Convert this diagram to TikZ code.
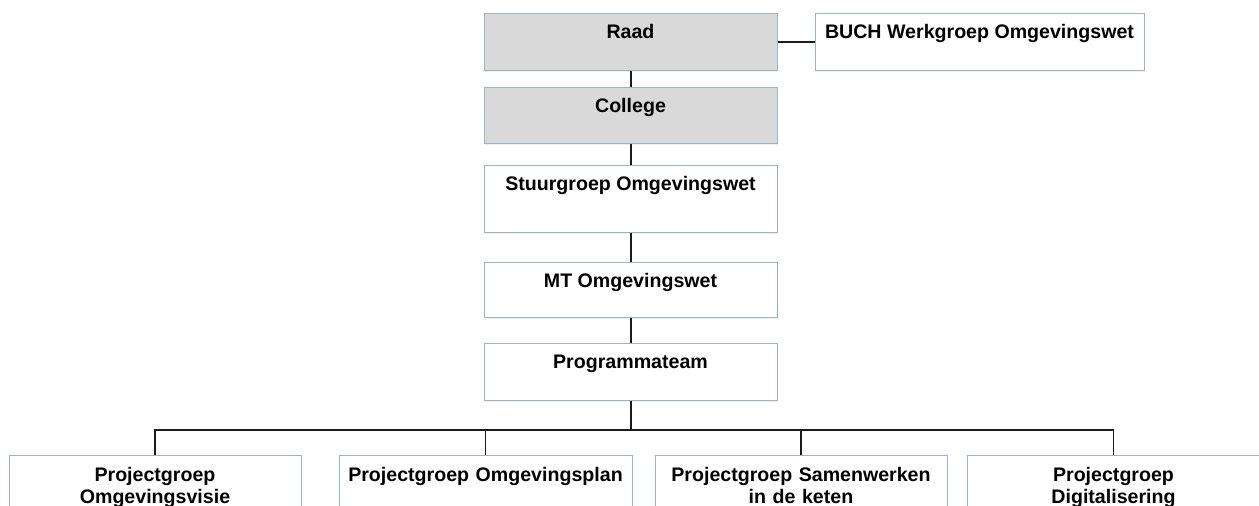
\documentclass[tikz,border=0pt]{standalone}
\usepackage{fontspec}
\setmainfont{Liberation Sans}
\usetikzlibrary{positioning,shadows}
\definecolor{boxborder}{HTML}{A3B1C6}
\definecolor{boxgray}{HTML}{D9D9D9}
\definecolor{linecol}{HTML}{1A1A1A}
\begin{document}
\begin{tikzpicture}[x=1pt,y=-1pt,
  orgbox/.style={draw=boxborder, line width=1pt, fill=white, inner xsep=0pt, inner ysep=0pt,
    anchor=north, font=\fontsize{19.6}{22}\selectfont\bfseries, text height=25pt,
    drop shadow={opacity=0.12, shadow xshift=1pt, shadow yshift=-1.5pt}},
  graybox/.style={orgbox, fill=boxgray},
  conn/.style={draw=linecol, line width=1.9pt}]
\useasboundingbox (0,0) rectangle (1259,506);
\clip (0,0) rectangle (1259,506);
% top column
\node[graybox, minimum width=293pt, text depth=32pt] (raad) at (630.5,13) {Raad};
\node[orgbox, minimum width=329pt, text depth=32pt] (buch) at (979.5,13) {BUCH Werkgroep Omgevingswet};
\node[graybox, minimum width=293pt, text depth=31pt] (college) at (630.5,87) {College};
\node[orgbox, minimum width=293pt, text depth=42pt] (stuur) at (630.5,165) {Stuurgroep Omgevingswet};
\node[orgbox, minimum width=293pt, text depth=30pt] (mt) at (630.5,262) {MT Omgevingswet};
\node[orgbox, minimum width=293pt, text depth=32pt] (prog) at (630.5,343) {Programmateam};
% bottom row
\node[orgbox, minimum width=292pt, text width=282pt, align=center, text height=26pt, text depth=60pt] (p1) at (155,455) {Projectgroep\\Omgevingsvisie};
\node[orgbox, minimum width=293pt, text width=283pt, align=center, text height=26pt, text depth=60pt] (p2) at (485.5,455) {Projectgroep Omgevingsplan};
\node[orgbox, minimum width=292pt, text width=282pt, align=center, text height=26pt, text depth=60pt] (p3) at (801,455) {Projectgroep Samenwerken\\in de keten};
\node[orgbox, minimum width=293pt, text width=283pt, align=center, text height=26pt, text depth=60pt] (p4) at (1113.5,455) {Projectgroep\\Digitalisering};
% connectors
\coordinate (bus) at (631,430);
\draw[conn] (raad.east) -- (buch.west);
\draw[conn] (raad.south -| bus) -- (college.north -| bus);
\draw[conn] (college.south -| bus) -- (stuur.north -| bus);
\draw[conn] (stuur.south -| bus) -- (mt.north -| bus);
\draw[conn] (mt.south -| bus) -- (prog.north -| bus);
\draw[conn] (prog.south -| bus) -- (bus);
\draw[conn] (p1.north) |- (bus) -| (p4.north);
\draw[conn] (p2.north) -- (p2.north |- bus);
\draw[conn] (p3.north) -- (p3.north |- bus);
\end{tikzpicture}
\end{document}
